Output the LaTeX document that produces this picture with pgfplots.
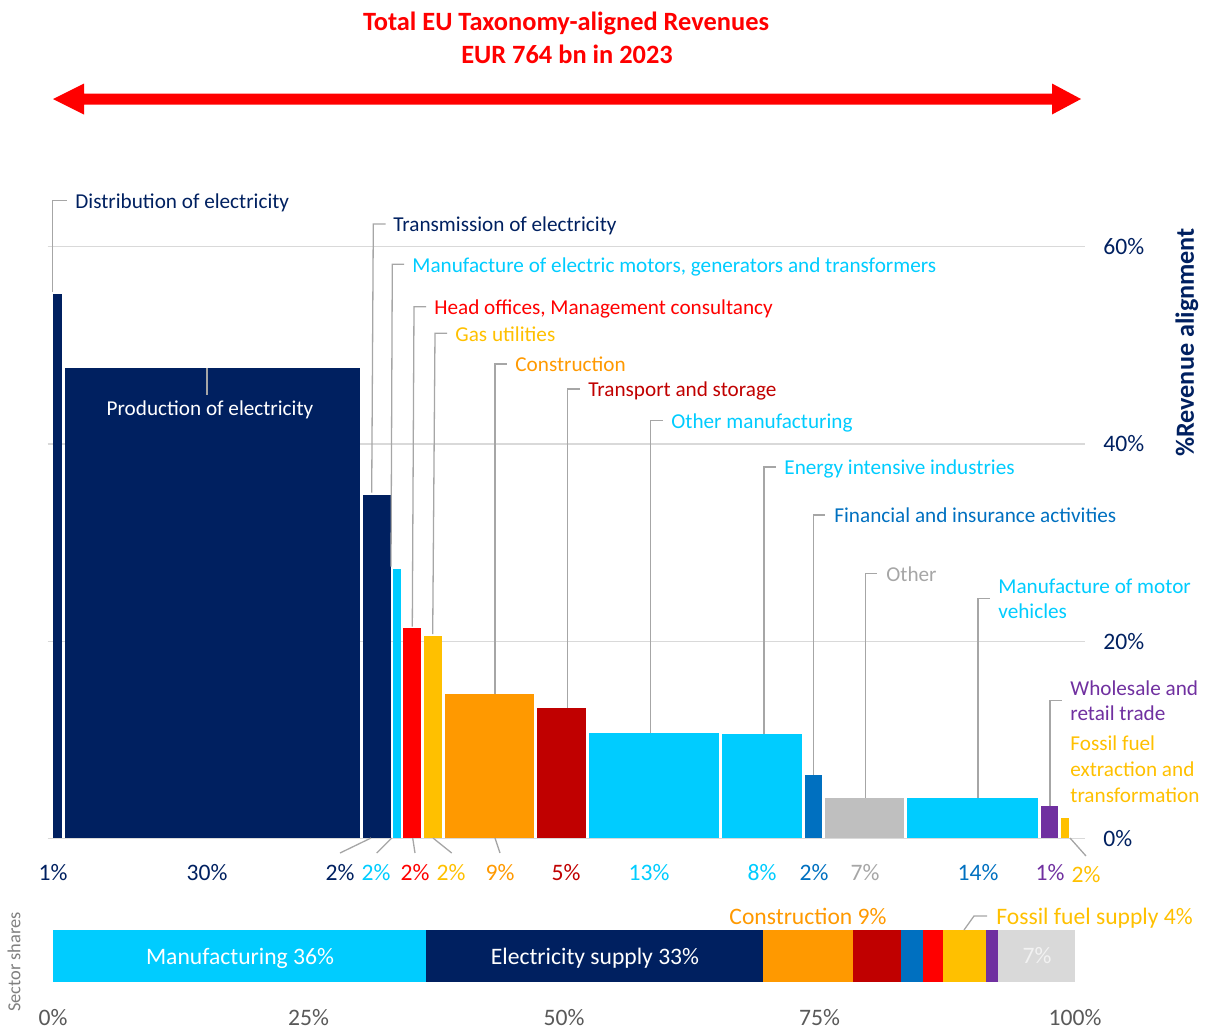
\documentclass[border=0pt]{standalone}
\usepackage{pgfplots}
\pgfplotsset{compat=1.18}
\usepackage{fontspec}
\setmainfont{Carlito}
\definecolor{navy}{HTML}{002060}
\definecolor{cyanb}{HTML}{00CCFF}
\definecolor{redb}{HTML}{FF0000}
\definecolor{yel}{HTML}{FFC000}
\definecolor{ora}{HTML}{FF9900}
\definecolor{dred}{HTML}{C00000}
\definecolor{blu}{HTML}{0070C0}
\definecolor{grb}{HTML}{BFBFBF}
\definecolor{grt}{HTML}{A6A6A6}
\definecolor{pur}{HTML}{7030A0}
\definecolor{lgr}{HTML}{D9D9D9}
\definecolor{tickc}{HTML}{595959}
\definecolor{lead}{HTML}{A6A6A6}
\newcommand\lab{\fontsize{10.6}{12.9}\selectfont}
\newcommand\pct{\fontsize{11.8}{14}\selectfont}
\begin{document}
\begin{tikzpicture}[x=0.5pt,y=-0.5pt]
\useasboundingbox (0,0) rectangle (1206,1030);
% title
\node[anchor=base,text=redb,inner sep=0pt,font=\fontsize{13.2}{16}\selectfont\bfseries] at (566,30) {Total EU Taxonomy-aligned Revenues};
\node[anchor=base,text=redb,inner sep=0pt,font=\fontsize{13.2}{16}\selectfont\bfseries] at (567,63) {EUR 764 bn in 2023};
\fill[redb] (53,99) -- (84,83.5) -- (84,93.7) -- (1052,93.7) -- (1052,83.5) -- (1081,99) -- (1052,114.5) -- (1052,104.5) -- (84,104.5) -- (84,114.5) -- cycle;

% main axis
\begin{axis}[at={(23.85pt,-419.15pt)},anchor=south west,scale only axis,
  width=518.65pt,height=295.8pt,xmin=-0.52,xmax=101,ymin=0,ymax=60,
  axis line style={draw=none},xtick=\empty,ytick={0,20,40,60},
  yticklabels={0\%,20\%,40\%,60\%},yticklabel pos=right,major tick length=0pt,
  ymajorgrids,grid style={lgr,line width=0.6pt},
  yticklabel style={anchor=west,inner sep=0pt,xshift=9pt,text=navy,font=\pct},
  clip=false,no markers]
\addplot[fill=navy,draw=none] coordinates {(0,55.2) (0.88,55.2)} \closedcycle;
\addplot[fill=navy,draw=none] coordinates {(1.17,47.7) (30.04,47.7)} \closedcycle;
\addplot[fill=navy,draw=none] coordinates {(30.33,34.8) (33.07,34.8)} \closedcycle;
\addplot[fill=cyanb,draw=none] coordinates {(33.27,27.3) (34.05,27.3)} \closedcycle;
\addplot[fill=redb,draw=none] coordinates {(34.25,21.3) (36.0,21.3)} \closedcycle;
\addplot[fill=yel,draw=none] coordinates {(36.3,20.5) (38.06,20.5)} \closedcycle;
\addplot[fill=ora,draw=none] coordinates {(38.36,14.65) (47.06,14.65)} \closedcycle;
\addplot[fill=dred,draw=none] coordinates {(47.36,13.2) (52.15,13.2)} \closedcycle;
\addplot[fill=cyanb,draw=none] coordinates {(52.45,10.7) (65.17,10.7)} \closedcycle;
\addplot[fill=cyanb,draw=none] coordinates {(65.46,10.6) (73.29,10.6)} \closedcycle;
\addplot[fill=blu,draw=none] coordinates {(73.58,6.46) (75.24,6.46)} \closedcycle;
\addplot[fill=grb,draw=none] coordinates {(75.54,4.12) (83.27,4.12)} \closedcycle;
\addplot[fill=cyanb,draw=none] coordinates {(83.56,4.12) (96.38,4.12)} \closedcycle;
\addplot[fill=pur,draw=none] coordinates {(96.67,3.28) (98.34,3.28)} \closedcycle;
\addplot[fill=yel,draw=none] coordinates {(98.63,2.06) (99.41,2.06)} \closedcycle;
\end{axis}

% bottom sector bar
\begin{axis}[at={(26.5pt,-490.85pt)},anchor=south west,scale only axis,
  width=511pt,height=25.85pt,xmin=0,xmax=100,ymin=0,ymax=1,
  axis line style={draw=none},ytick=\empty,xtick={0,25,50,75,100},
  xticklabels={0\%,25\%,50\%,75\%,100\%},major tick length=0pt,
  xticklabel style={anchor=base,inner sep=0pt,yshift=-21.7pt,text=tickc,font=\pct},
  clip=false,no markers]
\addplot[fill=cyanb,draw=none] coordinates {(0,1) (36.5,1)} \closedcycle;
\addplot[fill=navy,draw=none] coordinates {(36.5,1) (69.5,1)} \closedcycle;
\addplot[fill=ora,draw=none] coordinates {(69.5,1) (78.3,1)} \closedcycle;
\addplot[fill=dred,draw=none] coordinates {(78.3,1) (83.0,1)} \closedcycle;
\addplot[fill=blu,draw=none] coordinates {(83.0,1) (85.1,1)} \closedcycle;
\addplot[fill=redb,draw=none] coordinates {(85.1,1) (87.1,1)} \closedcycle;
\addplot[fill=yel,draw=none] coordinates {(87.1,1) (91.3,1)} \closedcycle;
\addplot[fill=pur,draw=none] coordinates {(91.3,1) (92.5,1)} \closedcycle;
\addplot[fill=lgr,draw=none] coordinates {(92.5,1) (100,1)} \closedcycle;
\end{axis}

% y label
\node[rotate=90,text=navy,font=\fontsize{13.1}{16}\selectfont\bfseries] at (1187,342.5) {\%Revenue alignment};
\node[rotate=90,text=gray,font=\fontsize{9.2}{11}\selectfont] at (14,962) {Sector shares};

% leader lines
\begin{scope}[lead,line width=0.65pt]
\draw (52.7,292) -- (52.7,200.7) -- (66.7,200.7);
\draw (207,368) -- (207,395);
\draw (371.7,492.7) -- (373.3,224) -- (385.7,224);
\draw (391,566.7) -- (392.3,264.3) -- (404,264.3);
\draw (412.3,626.7) -- (414,306.7) -- (426,306.7);
\draw (432.7,634) -- (435,333.3) -- (447,333.3);
\draw (495,694) -- (495,364) -- (506.7,364);
\draw (567.7,708) -- (567.7,389) -- (580,389);
\draw (650.7,733) -- (650.7,420.3) -- (663,420.3);
\draw (764,734) -- (764,467) -- (776,467);
\draw (813.7,774.7) -- (813.7,515) -- (825,515);
\draw (865.3,797.7) -- (865.3,573.3) -- (877,573.3);
\draw (978,797.7) -- (978,598.3) -- (990,598.3);
\draw (1050,806) -- (1050,700.7) -- (1062,700.7);
\draw (371,838) -- (340,853);
\draw (391.7,838) -- (376.7,853);
\draw (412.7,838) -- (415,853);
\draw (433,838) -- (451.7,853);
\draw (495,838) -- (500,853);
\draw (1070,838) -- (1086,856);
\draw (964,930) -- (974,916) -- (987,916);
\end{scope}

% category labels
\begin{scope}[every node/.style={anchor=base west,inner sep=0pt,font=\lab}]
\node[text=navy] at (75,208.3) {Distribution of electricity};
\node[text=navy] at (393,231.7) {Transmission of electricity};
\node[text=cyanb] at (412,272) {Manufacture of electric motors, generators and transformers};
\node[text=redb] at (434,314.3) {Head offices, Management consultancy};
\node[text=yel] at (455,341) {Gas utilities};
\node[text=ora] at (515,371.7) {Construction};
\node[text=dred] at (588,396.7) {Transport and storage};
\node[text=cyanb] at (671,428) {Other manufacturing};
\node[text=cyanb] at (784,474.7) {Energy intensive industries};
\node[text=blu] at (834,522.7) {Financial and insurance activities};
\node[text=grt] at (886,581) {Other};
\node[text=cyanb] at (998,593.5) {Manufacture of motor};
\node[text=cyanb] at (998,618.5) {vehicles};
\node[text=pur] at (1070,695) {Wholesale and};
\node[text=pur] at (1070,720.7) {retail trade};
\node[text=yel] at (1070,750) {Fossil fuel};
\node[text=yel] at (1070,776.7) {extraction and};
\node[text=yel] at (1070,802.7) {transformation};
\end{scope}
\node[anchor=base,inner sep=0pt,font=\lab,text=white] at (210,415) {Production of electricity};

% share labels
\begin{scope}[every node/.style={anchor=base,inner sep=0pt,font=\pct}]
\node[text=navy] at (53,880) {1\%};
\node[text=navy] at (207,880) {30\%};
\node[text=navy] at (340,880) {2\%};
\node[text=cyanb] at (376,880) {2\%};
\node[text=redb] at (415,880) {2\%};
\node[text=yel] at (451,880) {2\%};
\node[text=ora] at (500,880) {9\%};
\node[text=dred] at (566,880) {5\%};
\node[text=cyanb] at (649,880) {13\%};
\node[text=cyanb] at (762,880) {8\%};
\node[text=blu] at (814,880) {2\%};
\node[text=grt] at (865,880) {7\%};
\node[text=blu] at (978,880) {14\%};
\node[text=pur] at (1050,880) {1\%};
\node[text=yel] at (1086,882) {2\%};
% bottom bar texts
\node[text=white] at (240,964) {Manufacturing 36\%};
\node[text=white] at (595,964) {Electricity supply 33\%};
\node[text=white!95!black] at (1037,963) {7\%};
\node[text=ora] at (808,924) {Construction 9\%};
\end{scope}
\node[anchor=base west,inner sep=0pt,font=\pct,text=yel] at (996,924) {Fossil fuel supply 4\%};
\end{tikzpicture}
\end{document}
